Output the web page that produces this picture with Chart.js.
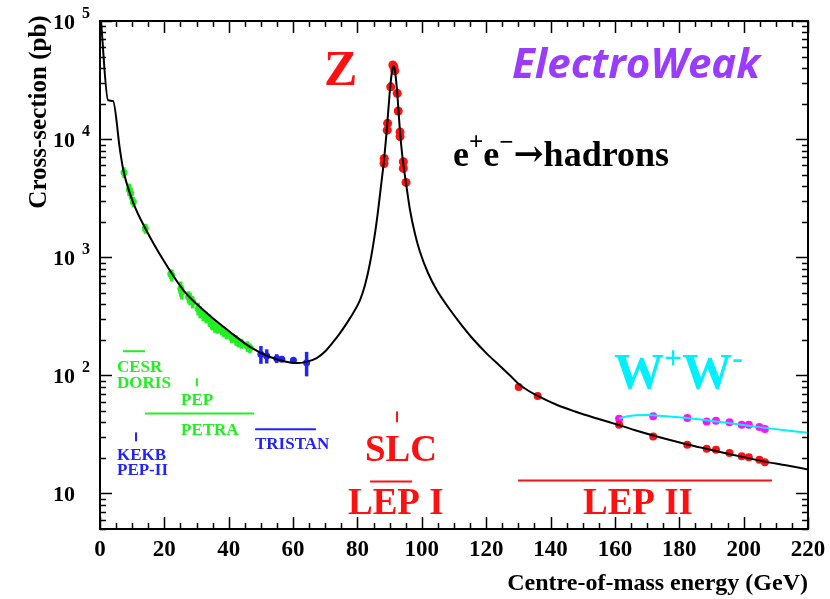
<!DOCTYPE html>
<html>
<head>
<meta charset="utf-8">
<script src="https://cdn.jsdelivr.net/npm/chart.js@4.4.0/dist/chart.umd.min.js"></script>
<style>
  html, body { margin: 0; padding: 0; background: #fff; }
  canvas { display: block; }
</style>
</head>
<body>
<canvas id="grafica" width="830" height="599"></canvas>
<script>
// --- Datos ---
// curva teorica e+e- -> hadrones (GeV, pb)
const curvaE = [0.31, 2.49, 4.04, 6.21, 7.24, 10.35, 14.51, 19.67, 25.88, 33.16, 40.40, 46.61, 52.83,
  61.12, 64.01, 67.34, 69.92, 72.41, 74.58, 77.69, 80.80, 82.35, 83.90, 85.46, 86.39, 87.32, 88.25, 89.19, 89.96, 90.58,
  91.20, 91.67, 92.29, 92.91, 93.53, 94.25, 95.09, 96.33, 97.89, 99.44, 101.93, 104.63, 108.14, 111.87, 115.91,
  120.26, 124.30, 127.41, 130.11, 133.00, 136.01, 141.70, 147.61, 154.44, 161.28, 166.56, 171.94, 177.11,
  182.50, 188.62, 194.74, 200.73, 206.64, 213.16, 220];
const curvaSigma = [100000, 21400, 21000, 8090, 5470, 2880, 1667, 946, 527, 337, 233, 174, 143,
  127, 130, 140, 159, 191, 228, 305, 434, 582, 893, 1600, 2460, 4010, 6650, 12700, 23600, 34900,
  41600, 37700, 26000, 15100, 9270, 6150, 4250, 2510, 1570, 1107, 735, 527, 379, 277, 203,
  152, 120, 99.7, 84.5, 74.4, 66.9, 56.6, 49.4, 43.1, 37.9, 34.1, 30.9, 28.3,
  26.0, 23.8, 21.8, 20.1, 18.6, 17.3, 15.96];

// curva W+W-
const curvaWWE = [161.3, 163.5, 165.7, 169.9, 175, 182.5, 193.7, 206.6, 220];
const curvaWWSigma = [43.0, 44.8, 45.8, 46.1, 45.3, 43.5, 40.0, 35.9, 32.6];

// CESR / DORIS / PEP / PETRA (verde)
const verdeE = [7.46, 9.1, 9.54, 10.35, 14.08, 22.0, 22.3, 25.1, 25.4, 27.5, 28.0, 28.8, 30.5, 31.1, 32.1, 33.0, 34.0, 34.7, 35.0, 35.7, 36.5, 37.8, 38.5, 39.3, 40.9, 42.3, 43.0, 44.0, 45.8, 46.6];
const verdeSigma = [5220, 3750, 3470, 2940, 1750, 720, 703, 543, 508, 460, 447, 418, 367, 344, 322, 310, 292, 274, 270, 257, 250, 240, 232, 225, 208, 198, 190, 186, 176, 170];
const verdeErr = [550, 450, 400, 300, 170, 70, 80, 80, 70, 55, 55, 50, 45, 40, 35, 35, 35, 30, 30, 28, 25, 22, 22, 22, 20, 20, 18, 18, 18, 16];

// TRISTAN (azul)
const azulE = [50.0, 51.8, 54.9, 56.5, 60.1, 64.2];
const azulSigma = [151, 146, 139, 137, 134, 128];
const azulErr = [26, 20, 12, 6, 6, 30];

// LEP I (rojo)
const lep1E = [91.0, 91.3, 91.58, 90.33, 92.36, 92.67, 89.37, 89.25, 93.23, 93.23, 88.32, 88.25, 94.25, 94.25, 95.09];
const lep1Sigma = [42500, 41000, 37900, 27700, 24400, 17300, 13600, 11900, 11500, 10500, 6860, 6220, 6430, 5650, 4300];

// LEP II hadrones (rojo)
const lep2E = [130.1, 136.0, 161.3, 171.9, 182.5, 188.5, 191.4, 195.6, 199.4, 201.6, 204.9, 206.6];
const lep2Sigma = [79.6, 66.8, 38.2, 30.4, 25.9, 23.9, 23.4, 22.0, 20.6, 20.3, 19.3, 18.4];

// LEP II W+W- (magenta)
const wwE = [161.3, 171.9, 182.5, 188.5, 191.4, 195.6, 199.4, 201.6, 204.9, 206.6];
const wwSigma = [43.0, 45.0, 43.5, 40.7, 41.3, 40.0, 38.2, 38.2, 36.5, 35.1];

// rangos de aceleradores: [E1, E2], [sigma1, sigma2]
const rangos = [
  { e: [7.1, 14.0], s: [160, 160], color: '#22ee22' },   // CESR
  { e: [30.1, 30.1], s: [94.4, 80.8], color: '#22ee22' }, // PEP
  { e: [14.0, 47.9], s: [47.6, 47.6], color: '#22ee22' }, // PETRA
  { e: [11.2, 11.2], s: [32.9, 27.6], color: '#2222ff' }, // KEKB
  { e: [48.2, 67.1], s: [34.9, 34.9], color: '#2222ff' }, // TRISTAN
  { e: [92.3, 92.3], s: [49.5, 40.0], color: '#ff1010' }, // SLC
  { e: [83.9, 97.0], s: [12.6, 12.6], color: '#ff1010' }, // LEP I
  { e: [129.9, 208.8], s: [12.9, 12.9], color: '#ff1010' } // LEP II
];

const xTicks = [0, 20, 40, 60, 80, 100, 120, 140, 160, 180, 200, 220];
const yDecadas = [1, 2, 3, 4, 5];

const SERIF = '"Liberation Serif", "DejaVu Serif", serif';
const pares = (xs, ys) => xs.map((x, i) => ({ x: x, y: ys[i] }));

// --- texto con superindices ---
function texto(ctx, partes, x, y, color) {
  ctx.save();
  ctx.fillStyle = color;
  ctx.textBaseline = 'alphabetic';
  ctx.textAlign = 'left';
  let cx = x;
  partes.forEach(p => {
    ctx.font = p.f;
    ctx.fillText(p.t, cx + (p.dx || 0), y + (p.dy || 0));
    cx += ctx.measureText(p.t).width + (p.dx || 0);
  });
  ctx.restore();
}

// barras de error
const erroresPlugin = {
  id: 'errores',
  beforeDatasetsDraw(chart) {
    const ctx = chart.ctx;
    const xs = chart.scales.x, ys = chart.scales.y;
    ctx.save();
    chart.data.datasets.forEach(ds => {
      if (!ds.errores) return;
      ctx.strokeStyle = ds.backgroundColor;
      ctx.lineWidth = 3.5;
      ds.data.forEach((p, i) => {
        const px = xs.getPixelForValue(p.x);
        ctx.beginPath();
        ctx.moveTo(px, ys.getPixelForValue(p.y + ds.errores[i]));
        ctx.lineTo(px, ys.getPixelForValue(p.y - ds.errores[i]));
        ctx.stroke();
      });
    });
    ctx.restore();
  }
};

// marco, ticks, etiquetas y textos
const marcoPlugin = {
  id: 'marco',
  afterDraw(chart) {
    const ctx = chart.ctx;
    const { left, right, top, bottom } = chart.chartArea;
    const xs = chart.scales.x, ys = chart.scales.y;
    ctx.save();
    ctx.strokeStyle = '#000';
    ctx.lineWidth = 2;
    ctx.strokeRect(left, top, right - left, bottom - top);

    // ticks x
    ctx.lineWidth = 1.5;
    for (let v = 0; v <= 220; v += 5) {
      const px = Math.round(xs.getPixelForValue(v)) + 0.5;
      const len = v % 20 === 0 ? 12 : 6;
      ctx.beginPath();
      ctx.moveTo(px, bottom); ctx.lineTo(px, bottom - len);
      ctx.moveTo(px, top); ctx.lineTo(px, top + len);
      ctx.stroke();
    }
    // ticks y
    for (let e = 0; e <= 5; e++) {
      for (let m = 1; m <= 9; m++) {
        const v = m * Math.pow(10, e);
        if (v < ys.min || v > ys.max) continue;
        const py = Math.round(ys.getPixelForValue(v)) + 0.5;
        const len = m === 1 ? 12 : 6;
        ctx.beginPath();
        ctx.moveTo(left, py); ctx.lineTo(left + len, py);
        ctx.moveTo(right, py); ctx.lineTo(right - len, py);
        ctx.stroke();
      }
    }

    // etiquetas x
    ctx.fillStyle = '#000';
    ctx.font = 'bold 23px ' + SERIF;
    ctx.textAlign = 'center';
    ctx.textBaseline = 'alphabetic';
    xTicks.forEach(v => ctx.fillText(String(v), xs.getPixelForValue(v), 556));

    // etiquetas y
    yDecadas.forEach(d => {
      const py = ys.getPixelForValue(Math.pow(10, d));
      if (d === 1) {
        texto(ctx, [{ t: '10', f: 'bold 22px ' + SERIF }], 53, py + 8, '#000');
      } else {
        texto(ctx, [{ t: '10', f: 'bold 22px ' + SERIF },
                    { t: String(d), f: 'bold 16px ' + SERIF, dx: 7, dy: -11 }], 53, py + 8, '#000');
      }
    });

    // titulos de ejes
    ctx.font = 'bold 24px ' + SERIF;
    ctx.textAlign = 'right';
    ctx.fillText('Centre-of-mass energy (GeV)', 808, 590);
    ctx.save();
    ctx.translate(46, 112);
    ctx.rotate(-Math.PI / 2);
    ctx.textAlign = 'center';
    ctx.font = 'bold 25px ' + SERIF;
    ctx.fillText('Cross-section (pb)', 0, 0);
    ctx.restore();

    // rangos de aceleradores
    rangos.forEach(r => {
      ctx.strokeStyle = r.color;
      ctx.lineWidth = 2;
      ctx.beginPath();
      ctx.moveTo(xs.getPixelForValue(r.e[0]), ys.getPixelForValue(r.s[0]));
      ctx.lineTo(xs.getPixelForValue(r.e[1]), ys.getPixelForValue(r.s[1]));
      ctx.stroke();
    });

    // textos
    const f16 = 'bold 17px ' + SERIF;
    texto(ctx, [{ t: 'CESR', f: f16 }], 117, 372, '#22ee22');
    texto(ctx, [{ t: 'DORIS', f: f16 }], 117, 388, '#22ee22');
    texto(ctx, [{ t: 'PEP', f: f16 }], 181, 405, '#22ee22');
    texto(ctx, [{ t: 'PETRA', f: f16 }], 181, 435, '#22ee22');
    texto(ctx, [{ t: 'KEKB', f: f16 }], 117, 460, '#2222ff');
    texto(ctx, [{ t: 'PEP-II', f: f16 }], 117, 475, '#2222ff');
    texto(ctx, [{ t: 'TRISTAN', f: f16 }], 255, 449, '#2222ff');

    const f38 = 'bold 37px ' + SERIF;
    texto(ctx, [{ t: 'SLC', f: f38 }], 365, 461, '#ff1010');
    texto(ctx, [{ t: 'LEP I', f: f38 }], 348, 514, '#ff1010');
    texto(ctx, [{ t: 'LEP II', f: f38 }], 583, 514, '#ff1010');

    texto(ctx, [{ t: 'Z', f: 'bold 50px ' + SERIF }], 324, 85, '#ff1010');
    texto(ctx, [{ t: 'ElectroWeak', f: 'italic bold 42px "Open Sans", "Liberation Sans", sans-serif' }], 512, 78, '#9a3cff');

    texto(ctx, [{ t: 'e', f: 'bold 36px ' + SERIF },
                { t: '+', f: 'bold 25px ' + SERIF, dy: -16 },
                { t: 'e', f: 'bold 36px ' + SERIF },
                { t: '\u2212', f: 'bold 25px ' + SERIF, dy: -16 },
                { t: '\u2192', f: 'bold 36px "DejaVu Serif", ' + SERIF },
                { t: 'hadrons', f: 'bold 36px ' + SERIF }], 453, 166, '#000');

    texto(ctx, [{ t: 'W', f: 'bold 50px ' + SERIF },
                { t: '+', f: 'bold 32px ' + SERIF, dy: -20 },
                { t: 'W', f: 'bold 50px ' + SERIF },
                { t: '-', f: 'bold 32px ' + SERIF, dy: -20 }], 614, 388, '#00f0ff');

    ctx.restore();
  }
};

new Chart(document.getElementById('grafica'), {
  type: 'scatter',
  data: {
    datasets: [
      { data: pares(curvaE, curvaSigma), showLine: true, borderColor: '#000', borderWidth: 2,
        pointRadius: 0, cubicInterpolationMode: 'monotone' },
      { data: pares(curvaWWE, curvaWWSigma), showLine: true, borderColor: '#00f0ff', borderWidth: 2,
        pointRadius: 0, cubicInterpolationMode: 'monotone' },
      { data: pares(verdeE, verdeSigma), errores: verdeErr, backgroundColor: '#22ee22', borderWidth: 0, pointRadius: 3.5 },
      { data: pares(azulE, azulSigma), errores: azulErr, backgroundColor: '#2222ff', borderWidth: 0, pointRadius: 3.5 },
      { data: pares(lep1E, lep1Sigma), backgroundColor: '#ff1010', borderWidth: 0, pointRadius: 4.5 },
      { data: pares(lep2E, lep2Sigma), backgroundColor: '#ff1010', borderWidth: 0, pointRadius: 4 },
      { data: pares(wwE, wwSigma), backgroundColor: '#ff10ff', borderWidth: 0, pointRadius: 4 }
    ]
  },
  options: {
    responsive: false,
    animation: false,
    devicePixelRatio: 1,
    layout: { padding: { left: 100, top: 21, right: 22, bottom: 70 } },
    plugins: { legend: { display: false }, tooltip: { enabled: false } },
    scales: {
      x: { type: 'linear', min: 0, max: 220, display: false },
      y: { type: 'logarithmic', min: 5, max: 100000, display: false }
    }
  },
  plugins: [erroresPlugin, marcoPlugin]
});
</script>
</body>
</html>
